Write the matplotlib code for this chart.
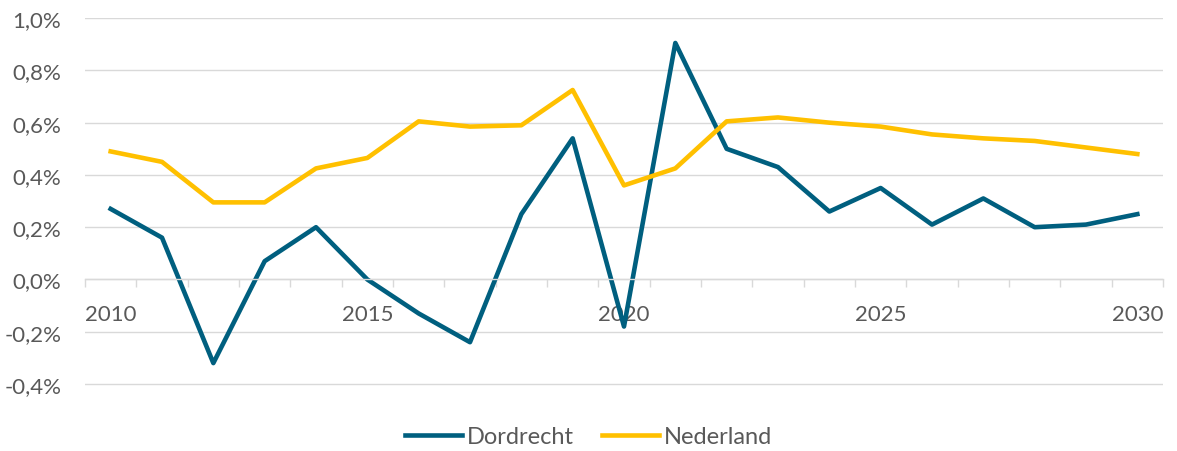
import matplotlib.pyplot as plt
import numpy as np
from matplotlib.ticker import FuncFormatter, FixedLocator

years = list(range(2010, 2031))
dordrecht = [0.27, 0.16, -0.32, 0.07, 0.20, 0.00, -0.13, -0.24, 0.25, 0.54, -0.18,
             0.905, 0.50, 0.43, 0.26, 0.35, 0.21, 0.31, 0.20, 0.21, 0.25]
nederland = [0.49, 0.45, 0.295, 0.295, 0.425, 0.465, 0.605, 0.585, 0.59, 0.725, 0.36,
             0.425, 0.605, 0.62, 0.60, 0.585, 0.555, 0.54, 0.53, 0.505, 0.48]

plt.rcParams['font.family'] = ['Lato', 'DejaVu Sans']
grid_col = '#D9D9D9'
text_col = '#595959'

fig = plt.figure(figsize=(11.77, 4.52), dpi=100)
ax = fig.add_axes([85 / 1177, 1 - 387 / 452, (1163 - 85) / 1177, (387 - 19) / 452])

x = np.arange(len(years))
ax.plot(x, dordrecht, color='#005F7F', lw=3.3, solid_joinstyle='round', label='Dordrecht')
ax.plot(x, nederland, color='#FFC000', lw=3.3, solid_joinstyle='round', label='Nederland')

ax.set_xlim(-0.5, len(years) - 0.5)
ax.set_ylim(-0.4076, 1.0005)
ax.set_yticks(np.arange(-0.4, 1.01, 0.2))
ax.yaxis.set_major_formatter(FuncFormatter(lambda v, p: f'{v:.1f}%'.replace('.', ',').replace('-0,0', '0,0')))
ax.grid(axis='y', color=grid_col, lw=1)
ax.set_axisbelow(True)

for s in ['top', 'right', 'left']:
    ax.spines[s].set_visible(False)
ax.spines['bottom'].set_position(('data', 0))
ax.spines['bottom'].set_color(grid_col)
ax.spines['bottom'].set_linewidth(1)

lab_idx = [i for i, y in enumerate(years) if y % 5 == 0]
ax.set_xticks(lab_idx)
ax.set_xticklabels([str(years[i]) for i in lab_idx])
ax.xaxis.set_minor_locator(FixedLocator(np.arange(-0.5, len(years), 1)))
ax.tick_params(axis='x', which='major', length=0, pad=18, labelsize=16, labelcolor=text_col)
ax.tick_params(axis='x', which='minor', length=6, color=grid_col, width=1)
ax.tick_params(axis='y', length=0, pad=17, labelsize=16, labelcolor=text_col)

fig.legend(loc='center', bbox_to_anchor=(0.5, 1 - 438 / 452), ncol=2, frameon=False,
           fontsize=17, handlelength=2.4, handletextpad=0.2, columnspacing=1.2,
           labelcolor=text_col)

fig.savefig('out.png', dpi=100)
